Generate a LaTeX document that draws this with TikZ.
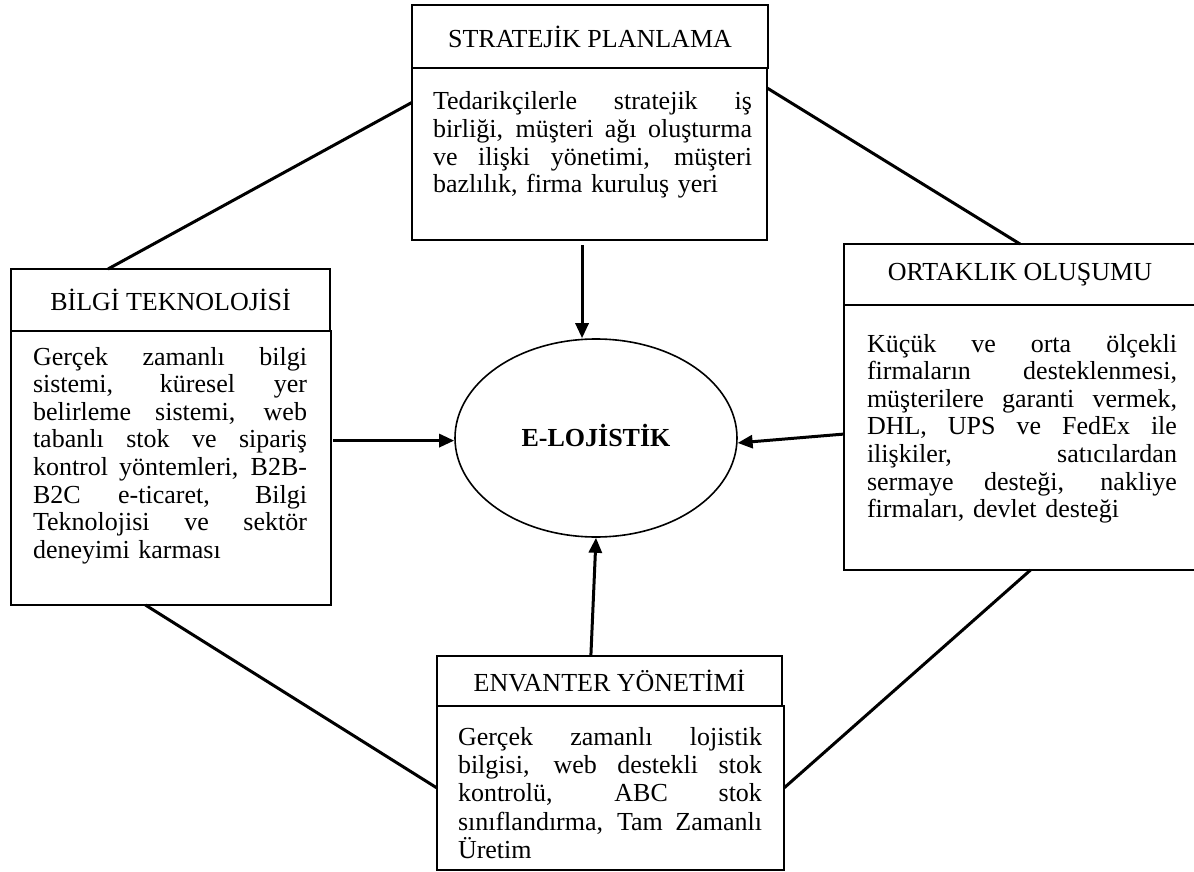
\documentclass[tikz,border=0pt]{standalone}
\usepackage{fontspec}
\setmainfont{Liberation Serif}
\usetikzlibrary{calc,arrows.meta,shapes.geometric}
\def\jwd{300pt}
\newcommand\jl[1]{\leavevmode\hbox to \jwd{\spaceskip=0.25em plus 5em minus 0.05em\relax #1}}
\begin{document}
\begin{tikzpicture}[x=1pt,y=-1pt,
  tbox/.style={draw, fill=white, line width=1.1pt, inner sep=0pt, outer sep=0pt, anchor=north west, font=\fontsize{26}{27.5}\selectfont},
  cbox/.style={draw, line width=2.2pt, inner sep=0pt, outer sep=0pt, anchor=north west},
  btext/.style={anchor=base west, inner sep=0pt, outer sep=0pt, align=left, text width=#1,
    font=\fontsize{26}{27.6}\selectfont},
  link/.style={line width=3pt},
  arr/.style={line width=3pt, -{Triangle[length=15pt,width=13pt]}}]
\useasboundingbox (0,0) rectangle (1194,872);

% content boxes
\node[cbox, minimum width=355pt, minimum height=172pt] (c1) at (412,68) {};
\node[cbox, minimum width=320pt, minimum height=274pt] (c2) at (11,331) {};
\node[cbox, minimum width=352pt, minimum height=265pt] (c3) at (844,305) {};
\node[cbox, minimum width=347pt, minimum height=164pt] (c4) at (437,706) {};

% title boxes
\node[tbox, minimum width=356pt, minimum height=63pt] (t1) at (412,5) {STRATEJİK PLANLAMA};
\node[tbox, minimum width=319pt, minimum height=62pt] (t2) at (11,269) {BİLGİ TEKNOLOJİSİ};
\node[tbox, minimum width=352pt, minimum height=61pt] (t3) at (844,244) {ORTAKLIK OLUŞUMU};
\node[tbox, minimum width=345pt, minimum height=50pt] (t4) at (437,656) {ENVANTER YÖNETİMİ};

% texts
\def\jwd{319pt}
\node[btext=322pt] (x1) at (433,110) {\jl{Tedarikçilerle stratejik iş}\\
\jl{birliği, müşteri ağı oluşturma}\\
\jl{ve ilişki yönetimi, müşteri}\\
bazlılık, firma kuruluş yeri};

\def\jwd{274pt}
\node[btext=277pt] (x2) at (33,365) {\jl{Gerçek zamanlı bilgi}\\
\jl{sistemi, küresel yer}\\
\jl{belirleme sistemi, web}\\
\jl{tabanlı stok ve sipariş}\\
\jl{kontrol yöntemleri, B2B-}\\
\jl{B2C e-ticaret, Bilgi}\\
\jl{Teknolojisi ve sektör}\\
deneyimi karması};

\def\jwd{310pt}
\node[btext=313pt] (x3) at (867,352) {\jl{Küçük ve orta ölçekli}\\
\jl{firmaların desteklenmesi,}\\
\jl{müşterilere garanti vermek,}\\
\jl{DHL, UPS ve FedEx ile}\\
\jl{ilişkiler, satıcılardan}\\
\jl{sermaye desteği, nakliye}\\
firmaları, devlet desteği};

\def\jwd{304pt}
\node[btext=307pt, font=\fontsize{26}{28.4}\selectfont] (x4) at (458,745) {\jl{Gerçek zamanlı lojistik}\\
\jl{bilgisi, web destekli stok}\\
\jl{kontrolü, ABC stok}\\
\jl{sınıflandırma, Tam Zamanlı}\\
Üretim};

% centre
\node[draw, ellipse, line width=1.6pt, minimum width=282pt, minimum height=198pt, inner sep=0pt,
  font=\bfseries\fontsize{26}{28}\selectfont] (e) at (596,438) {\raisebox{6pt}{E-LOJİSTİK}};

% links
\draw[link] ($(t2.north west)!0.304!(t2.north east)$) -- ($(c1.north west)!0.2!(c1.south west)$);
\draw[link] ($(c1.north east)!0.116!(c1.south east)$) -- (t3.north);
\draw[link] ($(c2.south west)!0.42!(c2.south east)$) -- (c4.west);
\draw[link] ($(c3.south west)!0.53!(c3.south east)$) -- (c4.east);

% arrows
\coordinate (a1) at ($(c1.south west)!0.479!(c1.south east)+(0,5)$);
\draw[arr] (a1) -- (a1 |- e.north);
\coordinate (a2) at ($(c2.north east)!0.4!(c2.south east)+(2,0)$);
\draw[arr] (a2) -- (a2 -| e.west);
\draw[arr] ($(c3.north west)!0.487!(c3.south west)$) -- (e.-2);
\draw[arr] ($(t4.north west)!0.446!(t4.north east)$) -- (e.south);
\end{tikzpicture}
\end{document}
